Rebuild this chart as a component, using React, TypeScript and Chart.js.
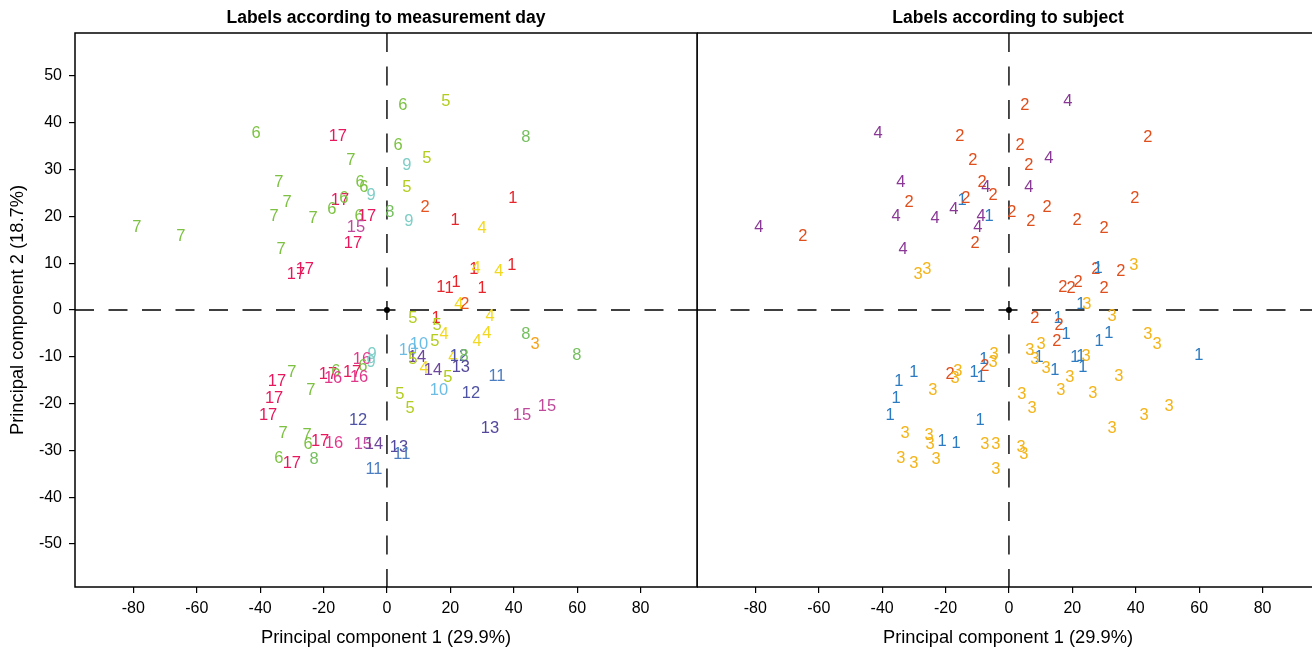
import React, { useEffect, useRef } from 'react';
import { Chart, registerables } from 'chart.js';

Chart.register(...registerables);

// ---- data (shared point positions, two labelings) ----
const pcX = [
  -41.3, -15.5, -11.4, -34.1, -8.5, -7.3, -5.0, -14.8, -13.6, -31.5,
  -17.4, -35.6, -23.3, -8.8, -6.3, 0.9, -9.8, -78.9, -65.0, -10.7,
  -33.4, -28.7, -25.9, 5.0, 18.6, 43.8, 3.5, 6.3, 12.6, 6.3,
  12.0, 6.9, 21.5, 39.7, 30.0, 27.4, 28.1, 35.3, 39.4, 17.0,
  19.6, 21.8, 30.0, 22.7, 24.6, -4.7, -7.9, -7.6, -5.0, -11.0,
  -8.8, -18.6, -16.1, -17.0, -30.0, -34.7, -24.0, -35.6, -37.5, -9.1,
  -32.8, -25.2, -24.9, -21.1, -16.7, -7.6, -4.1, -34.1, -30.0, -23.0,
  -4.1, 8.2, 15.5, 15.8, 32.5, 18.0, 15.1, 31.5, 28.4, 43.8,
  46.7, 59.9, 10.1, 6.6, 9.5, 8.2, 11.7, 14.5, 20.8, 22.7,
  24.3, 23.3, 19.2, 34.7, 16.4, 26.5, 4.1, 7.3, 50.5, 42.6,
  32.5, 3.8, 4.7,
];
const pcY = [
  38.0, 37.4, 32.1, 27.4, 27.4, 26.3, 24.6, 23.7, 24.1, 23.1,
  21.6, 20.1, 19.7, 20.1, 20.1, 21.0, 17.9, 17.9, 16.0, 14.5,
  13.2, 7.9, 8.8, 44.0, 44.7, 37.0, 35.3, 31.2, 32.7, 26.5,
  22.2, 19.2, 19.4, 24.1, 17.7, 8.8, 9.0, 8.5, 9.8, 5.1,
  4.9, 6.2, 4.9, 1.3, 1.5, -9.2, -10.3, -11.8, -11.1, -13.2,
  -14.1, -13.5, -13.0, -14.5, -13.2, -15.0, -16.9, -18.6, -22.4, -23.3,
  -26.1, -26.7, -28.6, -27.8, -28.4, -28.6, -28.6, -31.6, -32.5, -31.8,
  -33.8, -1.5, -1.5, -3.0, -1.1, -5.1, -6.6, -4.7, -6.6, -5.1,
  -7.1, -9.6, -7.1, -8.5, -10.0, -10.3, -12.2, -12.8, -10.0, -9.8,
  -9.8, -12.0, -14.3, -13.9, -16.9, -17.7, -17.9, -20.9, -20.5, -22.4,
  -25.2, -29.1, -30.6,
];
const dayLabels = [
  6, 17, 7, 7, 6, 6, 9, 17, 6, 7,
  6, 7, 7, 6, 17, 8, 15, 7, 7, 17,
  7, 17, 17, 6, 5, 8, 6, 9, 5, 5,
  2, 9, 1, 1, 4, 1, 4, 4, 1, 1,
  1, 1, 1, 4, 2, 9, 16, 6, 9, 17,
  16, 17, 6, 16, 7, 17, 7, 17, 17, 12,
  7, 7, 6, 17, 16, 15, 14, 6, 17, 8,
  11, 5, 1, 5, 4, 4, 5, 4, 4, 8,
  3, 8, 10, 10, 14, 5, 4, 14, 4, 12,
  8, 13, 5, 11, 10, 12, 5, 5, 15, 15,
  13, 13, 11,
];
const subjectLabels = [
  4, 2, 2, 4, 2, 4, 2, 1, 2, 2,
  4, 4, 4, 4, 1, 2, 4, 4, 2, 2,
  4, 3, 3, 2, 4, 2, 2, 2, 4, 4,
  2, 2, 2, 2, 2, 2, 1, 2, 3, 2,
  2, 2, 2, 1, 3, 3, 1, 2, 3, 1,
  1, 2, 3, 3, 1, 1, 3, 1, 1, 1,
  3, 3, 3, 1, 1, 3, 3, 3, 3, 3,
  3, 2, 1, 2, 3, 1, 2, 1, 1, 3,
  3, 1, 3, 3, 1, 3, 3, 1, 1, 1,
  3, 1, 3, 3, 3, 3, 3, 3, 3, 3,
  3, 3, 3,
];

const dayColors = [
  '#E8252B', '#E9531F', '#F6A31B', '#F2D81E', '#B3CC1D', '#7CC242',
  '#7CC142', '#74BF5E', '#7ECEC6', '#6CBDE6', '#4B7DC1', '#4F53A3',
  '#54489D', '#6C479C', '#BE4A9B', '#E2378B', '#E8185C',
];
const subjectColors = ['#2C7BC2', '#E04E1C', '#F4B419', '#8A3896'];

const xTicks = [-80, -60, -40, -20, 0, 20, 40, 60, 80];
const yTicks = [-50, -40, -30, -20, -10, 0, 10, 20, 30, 40, 50];
const xRange = [-98.4, 97.8];
const yRange = [-59.2, 59.2];
const panelTitles = ['Labels according to measurement day', 'Labels according to subject'];
const xTitle = 'Principal component 1 (29.9%)';
const yTitle = 'Principal component 2 (18.7%)';

const FONT = '"Liberation Sans", Arial, Helvetica, sans-serif';

function makePlugin(labels: number[], colors: string[]) {
  return {
    id: 'pcaDeco',
    beforeDatasetsDraw(chart: any) {
      const { ctx, chartArea: a, scales } = chart;
      const x0 = scales.x.getPixelForValue(0);
      const y0 = scales.y.getPixelForValue(0);
      ctx.save();
      ctx.strokeStyle = '#000';
      ctx.lineWidth = 1.4;
      ctx.setLineDash([19, 14.5]);
      ctx.beginPath();
      ctx.moveTo(a.left, y0);
      ctx.lineTo(a.right, y0);
      ctx.stroke();
      ctx.beginPath();
      ctx.moveTo(x0, a.top);
      ctx.lineTo(x0, a.bottom);
      ctx.stroke();
      ctx.setLineDash([]);
      ctx.fillStyle = '#000';
      ctx.beginPath();
      ctx.arc(x0, y0, 3, 0, Math.PI * 2);
      ctx.fill();
      ctx.restore();
    },
    afterDatasetsDraw(chart: any) {
      const { ctx } = chart;
      const meta = chart.getDatasetMeta(0);
      ctx.save();
      ctx.font = '16.5px ' + FONT;
      ctx.textAlign = 'center';
      ctx.textBaseline = 'middle';
      meta.data.forEach((el: any, i: number) => {
        const lab = labels[i];
        ctx.fillStyle = colors[lab - 1];
        ctx.fillText(String(lab), el.x, el.y + 1);
      });
      ctx.restore();
    },
    afterDraw(chart: any) {
      const { ctx, chartArea: a } = chart;
      ctx.save();
      ctx.strokeStyle = '#000';
      ctx.lineWidth = 1.5;
      ctx.strokeRect(a.left, a.top, a.right - a.left, a.bottom - a.top);
      ctx.restore();
    },
  };
}

function makeConfig(panel: number): any {
  const points = pcX.map((x, i) => ({ x, y: pcY[i] }));
  const labels = panel === 0 ? dayLabels : subjectLabels;
  const colors = panel === 0 ? dayColors : subjectColors;
  return {
    type: 'scatter',
    data: { datasets: [{ data: points, pointRadius: 0, pointHoverRadius: 0 }] },
    plugins: [makePlugin(labels, colors)],
    options: {
      responsive: false,
      animation: false,
      devicePixelRatio: 1,
      events: [],
      layout: { padding: { left: 0, right: 3, top: 0, bottom: 0 } },
      plugins: { legend: { display: false }, tooltip: { enabled: false }, title: { display: false } },
      scales: {
        x: {
          type: 'linear',
          position: 'bottom',
          min: xRange[0],
          max: xRange[1],
          afterBuildTicks: (s: any) => { s.ticks = xTicks.map((v) => ({ value: v })); },
          afterFit: (s: any) => { s.height = 62; },
          grid: { drawOnChartArea: false, drawTicks: true, tickLength: 6, color: '#000', lineWidth: 1.2 },
          border: { display: false },
          ticks: { color: '#000', font: { size: 16, family: FONT }, padding: 6, maxRotation: 0, autoSkip: false, callback: (v: any) => String(v) },
          title: { display: true, text: xTitle, color: '#000', font: { size: 18.3, family: FONT }, padding: { top: 0, bottom: 0 } },
        },
        xTop: {
          type: 'linear',
          axis: 'x',
          position: 'top',
          min: xRange[0],
          max: xRange[1],
          afterFit: (s: any) => { s.height = 33; },
          grid: { display: false },
          border: { display: false },
          ticks: { display: false },
          title: { display: true, text: panelTitles[panel], color: '#000', font: { size: 17.5, weight: 'bold', family: FONT }, padding: { top: 8, bottom: 0 } },
        },
        y: panel === 0
          ? {
              type: 'linear',
              position: 'left',
              min: yRange[0],
              max: yRange[1],
              afterBuildTicks: (s: any) => { s.ticks = yTicks.map((v) => ({ value: v })); },
              afterFit: (s: any) => { s.width = 75; },
              grid: { drawOnChartArea: false, drawTicks: true, tickLength: 6, color: '#000', lineWidth: 1.2 },
              border: { display: false },
              ticks: { color: '#000', font: { size: 16, family: FONT }, padding: 7, autoSkip: false, callback: (v: any) => String(v) },
              title: { display: true, text: yTitle, color: '#000', font: { size: 18.3, family: FONT }, padding: { top: 7, bottom: 0 } },
            }
          : {
              type: 'linear',
              position: 'left',
              display: false,
              min: yRange[0],
              max: yRange[1],
            },
      },
    },
  };
}

function Panel({ panel, left, width }: { panel: number; left: number; width: number }) {
  const ref = useRef<HTMLCanvasElement | null>(null);
  useEffect(() => {
    if (!ref.current) return;
    const chart = new Chart(ref.current, makeConfig(panel));
    return () => chart.destroy();
  }, [panel]);
  return (
    <canvas
      ref={ref}
      width={width}
      height={649}
      style={{ position: 'absolute', left, top: 0, width, height: 649, display: 'block' }}
    />
  );
}

export default function App() {
  return (
    <div
      style={{
        position: 'fixed',
        left: 0,
        top: 0,
        width: 1312,
        height: 649,
        overflow: 'hidden',
        background: '#fff',
      }}
    >
      <Panel panel={0} left={0} width={700} />
      <Panel panel={1} left={697} width={625} />
    </div>
  );
}
